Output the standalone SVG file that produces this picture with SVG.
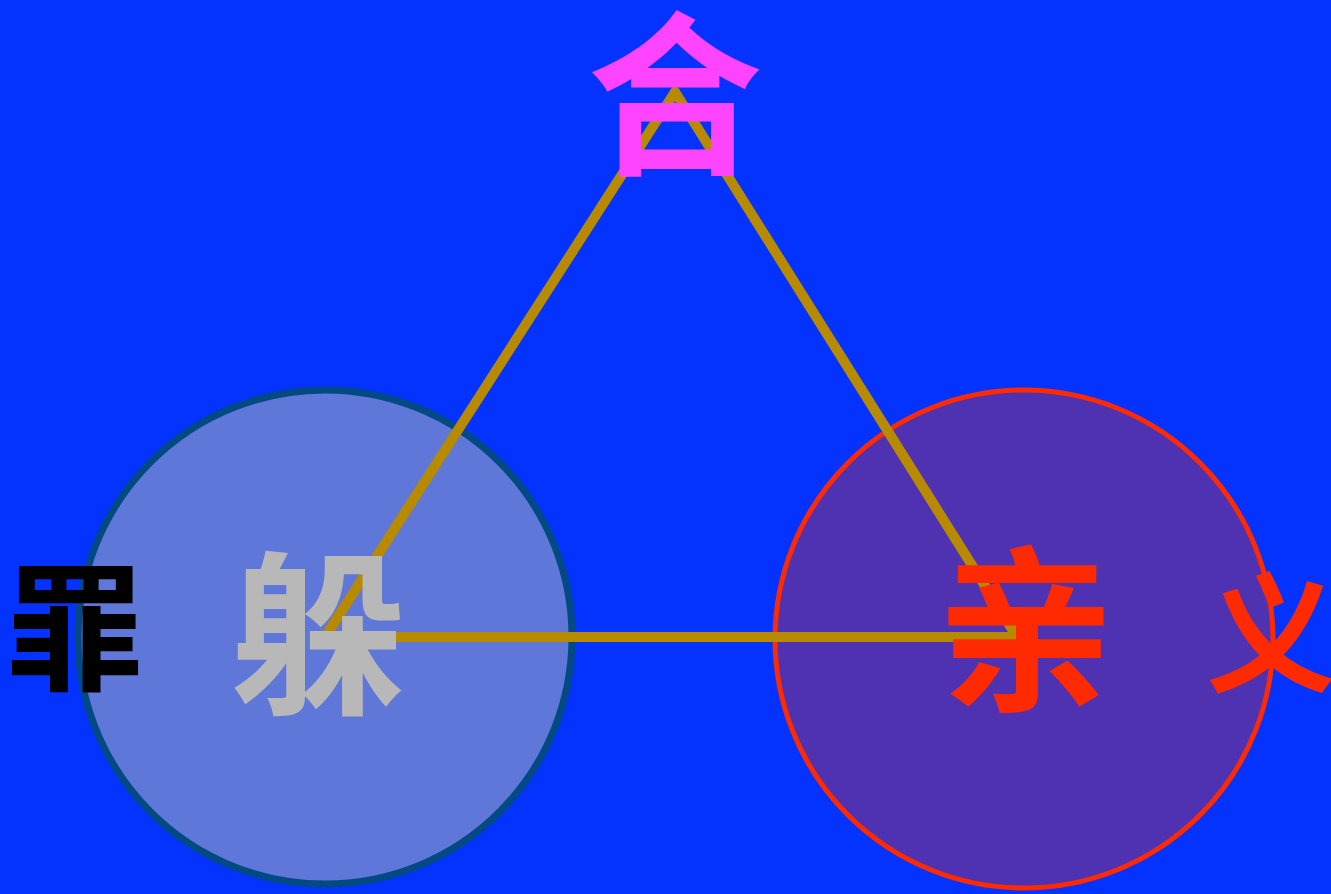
<svg xmlns="http://www.w3.org/2000/svg" width="1331" height="894" viewBox="0 0 1331 894">
<style>
.t{font-family:"Noto Sans CJK SC","Noto Sans CJK JP",sans-serif;font-weight:bold;text-anchor:middle}
.edge{stroke:#B88A00;stroke-width:10;fill:none;stroke-linecap:round;stroke-linejoin:round}
</style>
<rect width="1331" height="894" fill="#0433FF"/>
<g id="node-left-circle"><circle cx="325" cy="637" r="247" fill="#5E77D9" stroke="#044A82" stroke-width="7"/></g>
<g id="node-right-circle"><circle cx="1024" cy="639" r="249" fill="#4F32B2" stroke="#FF2A00" stroke-width="5"/></g>
<g id="connectors">
<line class="edge" x1="675" y1="92" x2="325" y2="637"/>
<line class="edge" x1="675" y1="92" x2="1017" y2="637"/>
<line class="edge" x1="325" y1="637" x2="1017" y2="637"/>
</g>
<g id="node-he"><text class="t" x="675" y="161" font-size="176" fill="#FF44FF">合</text></g>
<g id="node-zui"><text class="t" x="75" y="679" font-size="138" fill="#000000">罪</text></g>
<g id="node-duo"><text class="t" x="319" y="700" font-size="175" fill="#B8B8B8">躲</text></g>
<g id="node-qin"><text class="t" x="1026" y="697" font-size="178" fill="#FF2A00">亲</text></g>
<g id="node-yi"><text class="t" x="1271" y="681" font-size="130" fill="#FF2A00">义</text></g>
</svg>
